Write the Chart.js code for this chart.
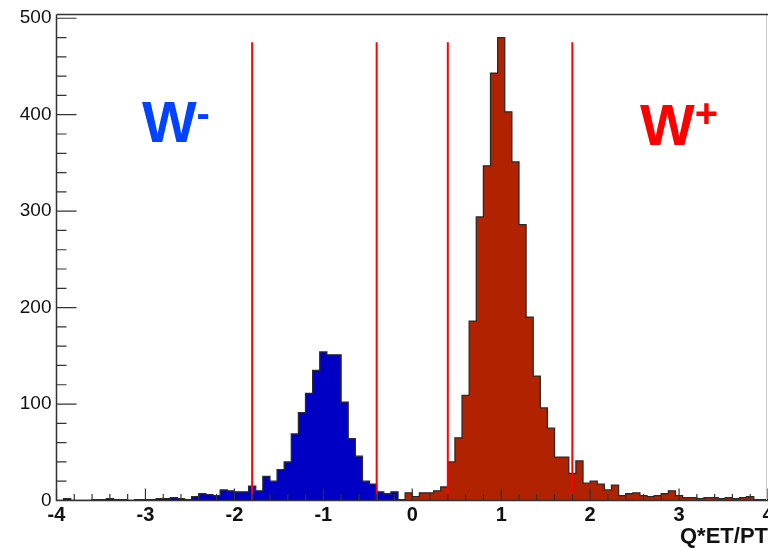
<!DOCTYPE html>
<html>
<head>
<meta charset="utf-8">
<script src="https://cdn.jsdelivr.net/npm/chart.js@4.4.1/dist/chart.umd.min.js"></script>
<style>
  html, body { margin: 0; padding: 0; background: #fff; }
  #grafico { display: block; }
</style>
</head>
<body>
<canvas id="grafico" width="768" height="548"></canvas>
<script>
// ---- DATA ----
// 100 bins of 0.08 between -4 and 4
const binStart = -4;
const binWidth = 0.08;

// W- entries, bins -4.00 ... -0.08
const wMinusCounts = [
  0, 2, 0, 0, 0, 1, 1, 2, 1, 1,
  0, 1, 1, 1, 2, 2, 3, 2, 1, 4,
  7, 6, 5, 11, 10, 9, 9, 15, 10, 25,
  20, 32, 40, 69, 91, 111, 135, 154, 151, 151,
  102, 64, 46, 20, 17, 9, 7, 9, 1
];

// W+ entries, bins -0.08 ... 4.00
const wPlusFirstBin = 49;
const wPlusCounts = [
  8, 4, 8, 8, 10, 14, 40, 65, 109, 186,
  294, 347, 443, 480, 403, 351, 286, 190, 129, 96,
  75, 45, 45, 28, 41, 18, 20, 17, 11, 16,
  5, 7, 8, 5, 4, 5, 7, 10, 5, 3,
  3, 2, 3, 3, 2, 3, 2, 3, 4, 1,
  1
];

// charge selection cuts on Q*ET/PT
const cutValues = [-1.8, -0.4, 0.4, 1.8];
const cutTop = 475;

const xTickValues = [-4, -3, -2, -1, 0, 1, 2, 3, 4];
const yTickValues = [0, 100, 200, 300, 400, 500];
const yMax = 504;

// ---- HELPERS ----
// outline of a histogram as stepped points on the bin edges
function stepPoints(counts, firstBin) {
  const edge = i => binStart + (firstBin + i) * binWidth;
  const pts = [{ x: edge(0), y: 0 }];
  counts.forEach((c, i) => pts.push({ x: edge(i), y: c }));
  const end = edge(counts.length);
  pts.push({ x: end, y: counts[counts.length - 1] });
  pts.push({ x: end, y: 0 });
  return pts;
}

function histDataset(label, counts, firstBin, fillColor) {
  return {
    label,
    data: stepPoints(counts, firstBin),
    stepped: 'before',
    fill: 'origin',
    backgroundColor: fillColor,
    borderColor: '#2a2a2a',
    borderWidth: 1.3,
    pointRadius: 0,
    order: 2
  };
}

const cutDatasets = cutValues.map(v => ({
  label: 'cut ' + v,
  data: [{ x: v, y: 0 }, { x: v, y: cutTop }],
  borderColor: '#ff0000',
  borderWidth: 2,
  pointRadius: 0,
  fill: false,
  order: 0
}));

// ---- FRAME, INNER TICKS AND LABELS ----
const marcoEjes = {
  id: 'marcoEjes',
  afterDatasetsDraw(chart) {
    const { ctx, chartArea: a, scales: { x, y } } = chart;
    ctx.save();

    // light right border
    ctx.strokeStyle = '#c8c8c8';
    ctx.lineWidth = 1;
    ctx.beginPath();
    ctx.moveTo(a.right - 1.5, a.top);
    ctx.lineTo(a.right - 1.5, a.bottom);
    ctx.stroke();

    // top, left and bottom lines
    ctx.strokeStyle = '#333';
    ctx.lineWidth = 1.5;
    ctx.beginPath();
    ctx.moveTo(a.left, a.top);
    ctx.lineTo(a.right, a.top);
    ctx.moveTo(a.left, a.top);
    ctx.lineTo(a.left, a.bottom);
    ctx.lineTo(a.right, a.bottom);
    ctx.stroke();

    // ticks drawn inward
    ctx.lineWidth = 1.2;
    ctx.beginPath();
    for (let i = 0; i < xTickValues.length; i++) {
      const v = xTickValues[i];
      const px = x.getPixelForValue(v);
      ctx.moveTo(px, a.bottom);
      ctx.lineTo(px, a.bottom - 12);
      if (i < xTickValues.length - 1) {
        const step = (xTickValues[i + 1] - v) / 5;
        for (let j = 1; j < 5; j++) {
          const pm = x.getPixelForValue(v + j * step);
          ctx.moveTo(pm, a.bottom);
          ctx.lineTo(pm, a.bottom - 6.5);
        }
      }
    }
    for (let i = 0; i < yTickValues.length; i++) {
      const v = yTickValues[i];
      const py = y.getPixelForValue(v);
      ctx.moveTo(a.left, py);
      ctx.lineTo(a.left + 20, py);
      if (i < yTickValues.length - 1) {
        const step = (yTickValues[i + 1] - v) / 5;
        for (let j = 1; j < 5; j++) {
          const pm = y.getPixelForValue(v + j * step);
          ctx.moveTo(a.left, pm);
          ctx.lineTo(a.left + 10, pm);
        }
      }
    }
    ctx.stroke();

    // W-/W+ labels
    const etiqueta = (xv, yv, base, sup, supLift, color) => {
      const px = x.getPixelForValue(xv);
      const py = y.getPixelForValue(yv);
      ctx.fillStyle = color;
      ctx.textBaseline = 'alphabetic';
      ctx.textAlign = 'left';
      ctx.font = 'bold 58px "Liberation Sans", Arial, sans-serif';
      ctx.fillText(base, px, py);
      const w = ctx.measureText(base).width;
      ctx.font = 'bold 40px "Liberation Sans", Arial, sans-serif';
      ctx.fillText(sup, px + w, py - supLift);
    };
    etiqueta(-3.04, 372, 'W', '-', 15, '#0044ff');
    etiqueta(2.56, 369, 'W', '+', 18, '#ff0000');

    ctx.restore();
  }
};

// ---- CHART ----
const ctx = document.getElementById('grafico').getContext('2d');
const grafico = new Chart(ctx, {
  type: 'line',
  data: {
    datasets: [
      ...cutDatasets,
      histDataset('W-', wMinusCounts, 0, '#0000c4'),
      histDataset('W+', wPlusCounts, wPlusFirstBin, '#b02200')
    ]
  },
  options: {
    responsive: false,
    animation: false,
    devicePixelRatio: 1,
    layout: { padding: { top: 14.4, left: 0, right: 0, bottom: 0 } },
    plugins: {
      legend: { display: false },
      tooltip: { enabled: false }
    },
    scales: {
      x: {
        type: 'linear',
        min: -4,
        max: 4,
        offset: false,
        grid: { display: false, drawTicks: false },
        border: { display: false },
        ticks: {
          padding: 3,
          color: '#111',
          maxRotation: 0,
          autoSkip: false,
          font: { family: 'Liberation Sans', size: 20, weight: 'bold' },
          callback: v => String(v)
        },
        title: {
          display: true,
          text: 'Q*ET/PT',
          align: 'end',
          color: '#111',
          padding: 0,
          font: { family: 'Liberation Sans', size: 22, weight: 'bold', lineHeight: 1 }
        },
        afterBuildTicks: s => { s.ticks = xTickValues.map(v => ({ value: v })); },
        afterFit: s => { s.height = 47.5; s.paddingLeft = 0; s.paddingRight = 0; }
      },
      y: {
        min: 0,
        max: yMax,
        grid: { display: false, drawTicks: false },
        border: { display: false },
        ticks: {
          padding: 5,
          color: '#111',
          font: { family: 'Liberation Sans', size: 19 },
          callback: v => String(v)
        },
        afterBuildTicks: s => { s.ticks = yTickValues.map(v => ({ value: v })); },
        afterFit: s => { s.width = 56.5; s.paddingTop = 0; s.paddingBottom = 0; }
      }
    }
  },
  plugins: [marcoEjes]
});
</script>
</body>
</html>
